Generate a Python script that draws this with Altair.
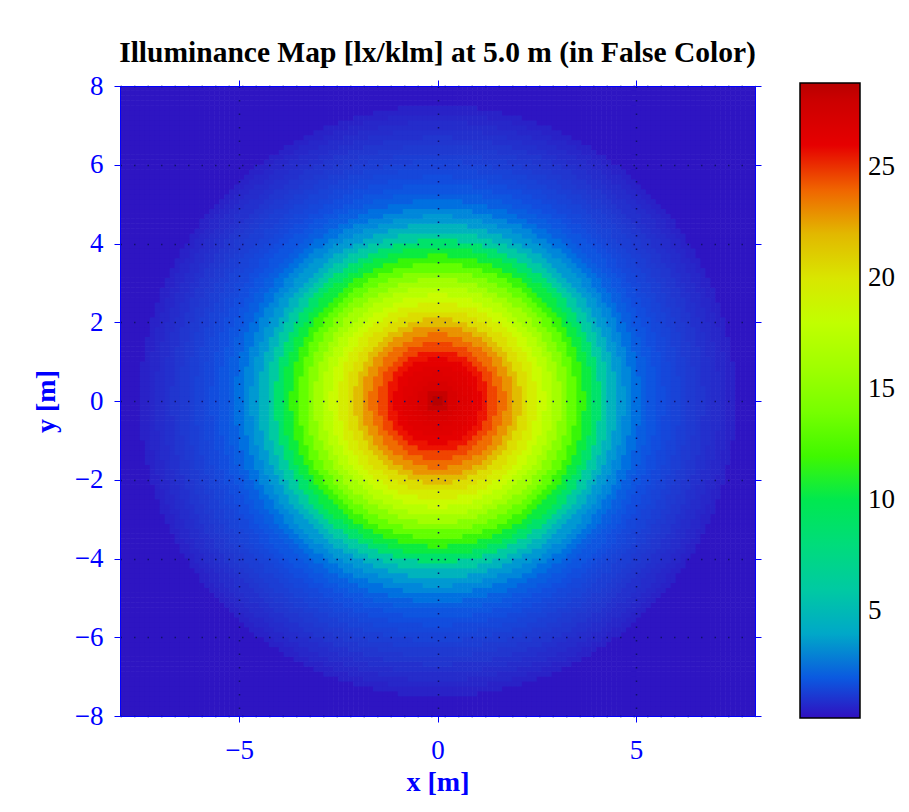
import altair as alt
import numpy as np
import pandas as pd

TITLE = "Illuminance Map [lx/klm] at 5.0 m (in False Color)"
X_TICKS = [-5, 0, 5]
Y_TICKS = [-8, -6, -4, -2, 0, 2, 4, 6, 8]
CBAR_TICKS = [5, 10, 15, 20, 25]

# radial illuminance profile (radius step 0.2 m)
radius_m = [0.0, 0.2, 0.4, 0.6, 0.8, 1.0, 1.2, 1.4, 1.6, 1.8,
            2.0, 2.2, 2.4, 2.6, 2.8, 3.0, 3.2, 3.4, 3.6, 3.8,
            4.0, 4.2, 4.4, 4.6, 4.8, 5.0, 5.2, 5.4, 5.6, 5.8,
            6.0, 6.2, 6.4, 6.6, 6.8, 7.0, 7.2, 7.4]
illum = [28.8, 28.2, 27.5, 27.0, 26.6, 26.1, 25.5, 24.7, 23.8, 22.9,
         21.9, 20.6, 19.6, 18.6, 17.4, 16.2, 14.6, 13.2, 11.8, 10.4,
         8.8, 6.0, 4.5, 3.5, 3.0, 2.5, 2.1, 1.9, 1.7, 1.5,
         1.35, 1.2, 1.05, 0.95, 0.85, 0.75, 0.65, 0.55]
outside_value = 0.3

# colour bar stops
stop_values = [0.2, 1.0, 1.8, 2.5, 3.2, 4.0, 5.1, 6.6, 8.5, 10.0, 11.2, 12.0,
               13.1, 15.0, 16.5, 18.4, 19.9, 20.9, 21.8, 22.6, 23.7, 24.5,
               25.3, 25.8, 27.5, 28.8]
stop_colors = ["#3010C0", "#2038D0", "#1050E0", "#0070E0", "#0090D8", "#00A8C8",
               "#00C0B0", "#00D098", "#00E070", "#00E850", "#20F020", "#40F800",
               "#60FF00", "#90FF00", "#A8FF00", "#C8FF00", "#D8E800", "#DDD800",
               "#E0C000", "#E8A000", "#F07000", "#F05000", "#F02000", "#E80000",
               "#D80000", "#B80000"]

# grid of cells; each cell takes the profile value of its nearest radius
step = 0.125
centers = np.round(np.arange(-8 + step / 2, 8, step), 4)
rows = []
for yc in centers:
    for xc in centers:
        r = float(np.hypot(xc, yc))
        i = int(round(r / 0.2))
        v = illum[i] if i < len(illum) else outside_value
        rows.append({"x": xc - step / 2, "x2": xc + step / 2 + 0.015,
                     "y": yc - step / 2, "y2": yc + step / 2 + 0.015, "v": v})
df = pd.DataFrame(rows)

FONT = "Liberation Serif"
BLUE = "#0000FF"
GRID = "#10106A"

xs = alt.Scale(domain=[-8, 8], nice=False, zero=False)
ys = alt.Scale(domain=[-8, 8], nice=False, zero=False)

common_axis = dict(tickColor=BLUE, domainColor=BLUE, tickSize=6, tickWidth=1,
                   domainWidth=1, zindex=1)

heat = alt.Chart(df).mark_rect(clip=True).encode(
    x=alt.X("x:Q", scale=xs, axis=alt.Axis(
        orient="bottom", values=X_TICKS, title="x [m]", format="d",
        grid=True, gridDash=[1.5, 12], gridColor=GRID, gridWidth=1.5,
        labelColor=BLUE, titleColor=BLUE, labelFont=FONT, labelFontSize=27,
        titleFont=FONT, titleFontSize=28, titleFontWeight="bold",
        labelPadding=15, titlePadding=5, labelFlush=False, **common_axis)),
    x2="x2:Q",
    y=alt.Y("y:Q", scale=ys, axis=alt.Axis(
        orient="left", values=Y_TICKS, title="y [m]", format="d",
        grid=True, gridDash=[1.5, 12], gridColor=GRID, gridWidth=1.5,
        labelColor=BLUE, titleColor=BLUE, labelFont=FONT, labelFontSize=27,
        titleFont=FONT, titleFontSize=28, titleFontWeight="bold",
        labelPadding=11, titlePadding=14, labelFlush=False, **common_axis)),
    y2="y2:Q",
    color=alt.Color("v:Q", scale=alt.Scale(domain=stop_values, range=stop_colors,
                                           interpolate="rgb"),
                    legend=alt.Legend(
                        orient="none", legendX=680, legendY=-3, direction="vertical",
                        gradientLength=635, gradientThickness=60, values=CBAR_TICKS,
                        title=None, labelFont=FONT, labelFontSize=27, labelColor="black",
                        labelOffset=8, gradientStrokeColor="black",
                        gradientStrokeWidth=1.5, format="d")),
)

frame_df = pd.DataFrame({"x": [-8.0, 8.0], "y": [-8.0, 8.0]})
frame = alt.Chart(frame_df).mark_point(opacity=0).encode(
    x=alt.X("x:Q", scale=xs, axis=alt.Axis(orient="top", values=X_TICKS, labels=False,
                                          title=None, grid=False, **common_axis)),
    y=alt.Y("y:Q", scale=ys, axis=alt.Axis(orient="right", values=Y_TICKS, labels=False,
                                          title=None, grid=False, **common_axis)),
)

chart = alt.layer(heat, frame).resolve_axis(x="independent", y="independent").properties(
    width=635, height=630,
    padding={"left": 112, "top": 78, "right": 145, "bottom": 88},
    autosize=alt.AutoSizeParams(type="none"),
    title=alt.TitleParams(TITLE, font=FONT, fontSize=29.5, fontWeight="bold",
                          color="black", anchor="middle", frame="group", offset=4),
).configure_view(stroke=None).configure_legend(
    gradientVerticalMaxLength=700, gradientVerticalMinLength=100)

chart.save("out.html", embed_options={"renderer": "svg", "actions": False})
